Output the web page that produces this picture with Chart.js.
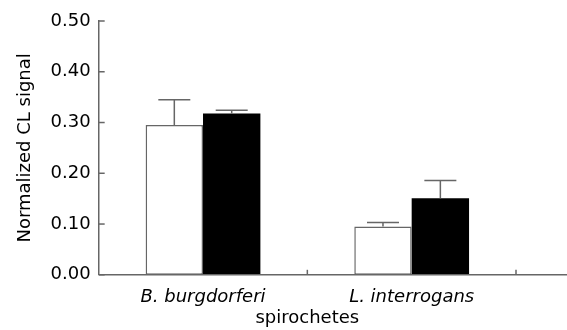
<!DOCTYPE html>
<html>
<head>
<meta charset="utf-8">
<script src="https://cdn.jsdelivr.net/npm/chart.js@4"></script>
<style>
  html, body { margin: 0; padding: 0; background: #fff; }
  #wrap { width: 567px; height: 330px; }
</style>
</head>
<body>
<div id="wrap"><canvas id="clChart" width="567" height="330"></canvas></div>
<script>
"use strict";

var categories = ['B. burgdorferi', 'L. interrogans'];
var openValues = [0.295, 0.095];
var openErrors = [0.050, 0.008];
var filledValues = [0.318, 0.151];
var filledErrors = [0.006, 0.035];
var yTicks = [0.00, 0.10, 0.20, 0.30, 0.40, 0.50];

var axisColor = '#666666';

// error bars (upward only) + inward ticks + baseline run-out
var extrasPlugin = {
  id: 'extras',
  afterDatasetsDraw: function (chart) {
    var ctx = chart.ctx;
    var yScale = chart.scales.y;
    var area = chart.chartArea;
    ctx.save();
    ctx.strokeStyle = axisColor;
    ctx.lineWidth = 1.5;

    chart.data.datasets.forEach(function (ds, di) {
      var meta = chart.getDatasetMeta(di);
      meta.data.forEach(function (bar, i) {
        var top = yScale.getPixelForValue(ds.data[i]);
        var errTop = yScale.getPixelForValue(ds.data[i] + ds.errors[i]);
        ctx.beginPath();
        ctx.moveTo(bar.x, top);
        ctx.lineTo(bar.x, errTop);
        ctx.moveTo(bar.x - 16, errTop);
        ctx.lineTo(bar.x + 16, errTop);
        ctx.stroke();
      });
    });

    // y ticks pointing into the plot
    yTicks.forEach(function (v) {
      var py = yScale.getPixelForValue(v);
      ctx.beginPath();
      ctx.moveTo(area.left, py);
      ctx.lineTo(area.left + 6, py);
      ctx.stroke();
    });

    // x ticks at category boundaries, pointing up
    var xScale = chart.scales.x;
    for (var i = 1; i <= categories.length; i++) {
      var px = (xScale.getPixelForValue(i - 1) + xScale.getPixelForValue(Math.min(i, categories.length - 1))) / 2;
      if (i === categories.length) {
        px = area.right;
      }
      ctx.beginPath();
      ctx.moveTo(px, area.bottom);
      ctx.lineTo(px, area.bottom - 5);
      ctx.stroke();
    }

    // baseline continues to the right edge
    ctx.beginPath();
    ctx.moveTo(area.left, area.bottom);
    ctx.lineTo(chart.width, area.bottom);
    ctx.stroke();
    ctx.restore();
  }
};

var clCtx = document.getElementById('clChart').getContext('2d');
var clChart = new Chart(clCtx, {
  type: 'bar',
  data: {
    labels: categories,
    datasets: [{
      label: 'open',
      data: openValues,
      errors: openErrors,
      backgroundColor: '#ffffff',
      borderColor: axisColor,
      borderWidth: 1.5,
      borderSkipped: false
    }, {
      label: 'filled',
      data: filledValues,
      errors: filledErrors,
      backgroundColor: '#000000',
      borderColor: '#000000',
      borderWidth: 0,
      borderSkipped: false
    }]
  },
  plugins: [extrasPlugin],
  options: {
    responsive: false,
    animation: {
      duration: 0
    },
    layout: {
      padding: { top: 21, right: 51, left: 15, bottom: 0 }
    },
    plugins: {
      legend: { display: false },
      tooltip: { enabled: false }
    },
    datasets: {
      bar: {
        barPercentage: 1.0,
        categoryPercentage: 0.55
      }
    },
    scales: {
      x: {
        offset: true,
        grid: { display: false, drawTicks: false },
        border: { display: false },
        ticks: {
          color: '#000',
          padding: 12,
          maxRotation: 0,
          font: { family: 'DejaVu Sans', size: 18, style: 'italic' }
        },
        title: {
          display: true,
          text: 'spirochetes',
          color: '#000',
          padding: { top: -13, bottom: 1 },
          font: { family: 'DejaVu Sans', size: 18 }
        }
      },
      y: {
        min: 0,
        max: 0.5,
        afterBuildTicks: function (axis) {
          axis.ticks = yTicks.map(function (v) { return { value: v }; });
        },
        grid: { display: false, drawTicks: false },
        border: { display: true, color: axisColor, width: 1.5 },
        ticks: {
          color: '#000',
          padding: 8,
          font: { family: 'DejaVu Sans', size: 18 },
          callback: function (v) { return Number(v).toFixed(2); }
        },
        title: {
          display: true,
          text: 'Normalized CL signal',
          color: '#000',
          padding: { top: 0, bottom: 6 },
          font: { family: 'DejaVu Sans', size: 18 }
        }
      }
    }
  }
});
</script>
</body>
</html>
